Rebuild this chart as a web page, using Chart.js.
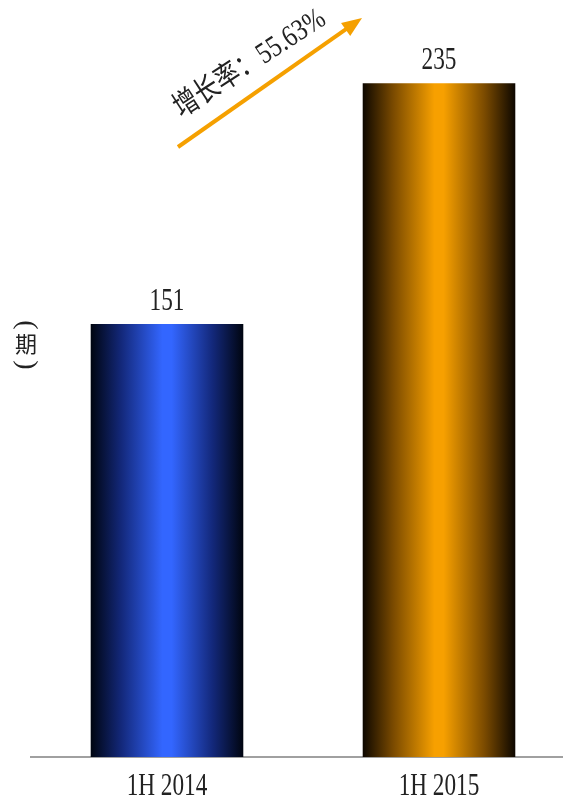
<!DOCTYPE html>
<html>
<head>
<meta charset="utf-8">
<script src="https://cdn.jsdelivr.net/npm/chart.js@4/dist/chart.umd.min.js"></script>
<style>
  html, body { margin: 0; padding: 0; background: #fff; overflow: hidden; }
  #wrap { width: 575px; height: 798px; }
</style>
</head>
<body>
<div id="wrap"><canvas id="chart"></canvas></div>
<script>
// chart data
const periods = ['1H 2014', '1H 2015'];
const volumes = [151, 235];
const growthText = '增长率：55.63%';
const unitText = ['(', '期', ')'];

// bar gradient colours (edge, shoulder, centre)
const barColors = [
  ['#000510', '#13287a', '#3366ff'],
  ['#0d0700', '#7a4a00', '#f7a000']
];

const SERIF = "'Liberation Serif', 'Noto Sans CJK SC', serif";

// draw text squeezed horizontally (the source font is narrow)
function narrowText(ctx, text, x, y, sx) {
  ctx.save();
  ctx.translate(x, y);
  ctx.scale(sx, 1);
  ctx.fillText(text, 0, 0);
  ctx.restore();
}

const decorPlugin = {
  id: 'decor',
  beforeDatasetsDraw(chart) {
    const ctx = chart.ctx;
    chart.getDatasetMeta(0).data.forEach((bar, i) => {
      const left = bar.x - bar.width / 2;
      const g = ctx.createLinearGradient(left, 0, left + bar.width, 0);
      const [edge, shoulder, mid] = barColors[i];
      g.addColorStop(0, edge);
      g.addColorStop(0.2, shoulder);
      g.addColorStop(0.47, mid);
      g.addColorStop(0.53, mid);
      g.addColorStop(0.8, shoulder);
      g.addColorStop(1, edge);
      bar.options.backgroundColor = g;
    });
  },
  afterDatasetsDraw(chart) {
    const ctx = chart.ctx;
    ctx.save();
    ctx.fillStyle = '#222';
    ctx.font = '31px ' + SERIF;
    ctx.textAlign = 'center';
    ctx.textBaseline = 'alphabetic';
    chart.getDatasetMeta(0).data.forEach((bar, i) => {
      narrowText(ctx, String(volumes[i]), bar.x, bar.y - 14, 0.75);
    });
    ctx.restore();
  },
  afterDraw(chart) {
    const ctx = chart.ctx;
    const xs = chart.scales.x;
    ctx.save();
    ctx.fillStyle = '#222';

    // category labels
    ctx.font = '31px ' + SERIF;
    ctx.textAlign = 'center';
    ctx.textBaseline = 'alphabetic';
    periods.forEach((p, i) => {
      narrowText(ctx, p, xs.getPixelForValue(i), 795, 0.75);
    });

    // vertical unit label: brackets turned on their side
    ctx.textBaseline = 'middle';
    ctx.font = "28px 'Liberation Serif'";
    [[unitText[0], 325], [unitText[2], 365]].forEach(([ch, y]) => {
      ctx.save();
      ctx.translate(26, y);
      ctx.rotate(Math.PI / 2);
      ctx.fillText(ch, 0, 0);
      ctx.restore();
    });
    ctx.font = "22px 'Noto Sans CJK SC'";
    ctx.fillText(unitText[1], 26, 344);

    // growth arrow
    const tail = [178, 147], tip = [362, 18];
    const ang = Math.atan2(tip[1] - tail[1], tip[0] - tail[0]);
    const headLen = 20;
    ctx.strokeStyle = '#f5a000';
    ctx.fillStyle = '#f5a000';
    ctx.lineWidth = 4;
    ctx.beginPath();
    ctx.moveTo(tail[0], tail[1]);
    ctx.lineTo(tip[0] - Math.cos(ang) * headLen * 0.8, tip[1] - Math.sin(ang) * headLen * 0.8);
    ctx.stroke();
    ctx.beginPath();
    ctx.moveTo(tip[0], tip[1]);
    ctx.lineTo(tip[0] - headLen * Math.cos(ang) + 8 * Math.sin(ang), tip[1] - headLen * Math.sin(ang) - 8 * Math.cos(ang));
    ctx.lineTo(tip[0] - headLen * Math.cos(ang) - 8 * Math.sin(ang), tip[1] - headLen * Math.sin(ang) + 8 * Math.cos(ang));
    ctx.closePath();
    ctx.fill();

    // growth text along the arrow
    ctx.fillStyle = '#222';
    ctx.font = '30px ' + SERIF;
    ctx.textAlign = 'center';
    ctx.textBaseline = 'middle';
    ctx.save();
    ctx.translate(250, 64);
    ctx.rotate(-33 * Math.PI / 180);
    ctx.scale(0.82, 1);
    ctx.fillText(growthText, 0, 0);
    ctx.restore();

    ctx.restore();
  }
};

new Chart(document.getElementById('chart'), {
  type: 'bar',
  data: {
    labels: periods,
    datasets: [{
      data: volumes,
      backgroundColor: barColors.map(c => c[2]),
      borderWidth: 0,
      barPercentage: 0.561,
      categoryPercentage: 1
    }]
  },
  options: {
    responsive: true,
    maintainAspectRatio: false,
    devicePixelRatio: 1,
    animation: false,
    layout: { padding: { left: 31, top: 0, right: 0, bottom: 0 } },
    plugins: {
      legend: { display: false },
      tooltip: { enabled: false }
    },
    scales: {
      x: {
        grid: { display: false },
        border: { display: true, color: '#a0a0a0', width: 2 },
        ticks: { display: false },
        afterFit(scale) { scale.height = 41; }
      },
      y: {
        display: false,
        min: 0,
        max: 264
      }
    }
  },
  plugins: [decorPlugin]
});
</script>
</body>
</html>
